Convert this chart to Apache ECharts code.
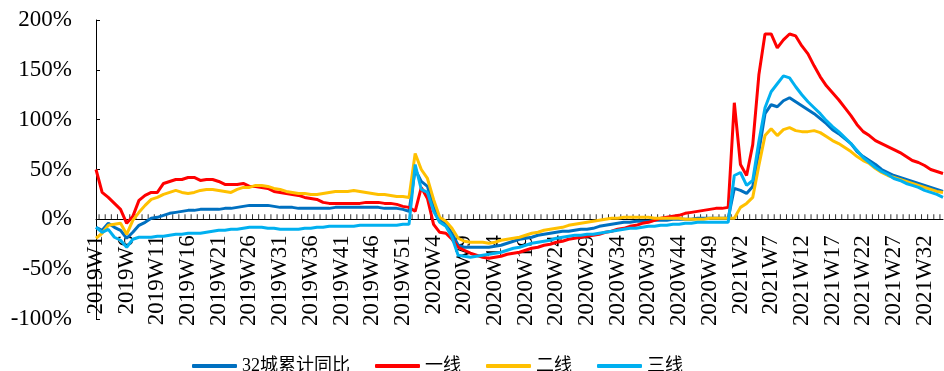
<!DOCTYPE html>
<html>
<head>
<meta charset="utf-8">
<script src="https://cdn.jsdelivr.net/npm/echarts@6/dist/echarts.min.js"></script>
<style>
  html, body { margin: 0; padding: 0; background: #fff; }
  #chart { width: 944px; height: 371px; }
</style>
</head>
<body>
<div id="chart"></div>
<script>
// Week categories: 2019W1 … 2021W35
const years = [2019, 2020, 2021];
const weeksInYear = [52, 52, 35];
const weeks = [];
years.forEach((y, k) => {
  for (let w = 1; w <= weeksInYear[k]; w++) weeks.push(y + 'W' + w);
});

const seriesNames = ['32城累计同比', '一线', '二线', '三线'];

// 32城累计同比 (%)
const city32 = [
  -8, -11, -4, -8, -11, -19, -13, -6, -3, 1, 2, 4, 6, 7, 8, 9, 9, 10, 10, 10, 10, 11, 11, 12, 13, 14, 14,
  14, 14, 13, 12, 12, 12, 11, 11, 11, 11, 11, 11, 12, 12, 12, 12, 12, 12, 12, 12, 11, 11, 11, 10, 8,
  50, 38, 33, 12, -1, -5, -14, -26, -28, -28, -28, -28, -28, -27, -26, -24, -22, -20, -19, -18, -16, -15, -14, -13, -12, -12, -11, -10, -10,
  -9, -7, -6, -5, -4, -3, -3, -2, -2, -2, -1, -1, -1, 0, 0, 0, 0, 1, 1, 1, 1, 1, 1,
  31, 29, 26, 33, 68, 106, 115, 113, 119, 122, 118, 114, 110, 106, 101, 96, 90, 86, 81, 76, 68, 63, 59, 55, 50, 47, 44, 42, 40, 38, 36, 34, 32, 30, 28
];

// 一线 (%)
const tier1 = [
  50, 27, 22, 16, 10, -4, 3, 19, 24, 27, 27, 36, 38, 40, 40, 42, 42, 39, 40, 40, 38, 35, 35, 35, 36, 33, 33,
  32, 31, 28, 27, 26, 25, 24, 22, 21, 20, 17, 16, 16, 16, 16, 16, 16, 17, 17, 17, 16, 16, 15, 13, 12,
  8, 32, 21, -5, -13, -14, -20, -28, -31, -34, -36, -38, -39, -38, -37, -35, -34, -33, -31, -29, -28, -26, -25, -23, -22, -20, -19, -18, -17,
  -16, -15, -13, -12, -10, -9, -7, -6, -4, -3, -1, 1, 2, 3, 4, 6, 7, 8, 9, 10, 11, 11, 12,
  117, 55, 44, 75, 145, 186, 186, 172, 180, 186, 184, 174, 166, 154, 143, 134, 127, 120, 112, 104, 95, 88, 84, 79, 76, 73, 70, 67, 63, 59, 57, 54, 50, 48, 46
];

// 二线 (%)
const tier2 = [
  -19, -14, -6, -5, -4, -15, -1, 7, 14, 20, 22, 25, 27, 29, 27, 26, 27, 29, 30, 30, 29, 28, 27, 30, 32, 32, 34,
  34, 33, 31, 30, 28, 27, 26, 26, 25, 25, 26, 27, 28, 28, 28, 29, 28, 27, 26, 25, 25, 24, 23, 23, 22,
  66, 50, 41, 20, 2, -2, -9, -19, -22, -23, -23, -23, -24, -23, -21, -20, -19, -18, -16, -14, -13, -11, -10, -9, -8, -6, -5, -4, -3,
  -2, -1, 0, 1, 1, 2, 2, 2, 2, 2, 1, 1, 1, 1, 1, 0, 0, 0, 0, 1, 1, 1, 1,
  1, 12, 16, 22, 54, 84, 91, 84, 90, 92, 89, 88, 88, 89, 87, 83, 79, 76, 72, 68, 63, 59, 56, 51, 47, 44, 42, 40, 38, 36, 34, 32, 30, 28, 27
];

// 三线 (%)
const tier3 = [
  -8, -13, -10, -18, -21, -28, -20, -18, -18, -18, -17, -17, -16, -15, -15, -14, -14, -14, -13, -12, -11, -11, -10, -10, -9, -8, -8,
  -8, -9, -9, -10, -10, -10, -10, -9, -9, -8, -8, -7, -7, -7, -7, -7, -6, -6, -6, -6, -6, -6, -6, -5, -5,
  55, 30, 27, 8, -3, -7, -18, -36, -37, -38, -37, -36, -35, -34, -33, -31, -29, -28, -26, -24, -23, -22, -21, -19, -18, -17, -16, -16, -15,
  -15, -14, -13, -12, -11, -10, -9, -9, -8, -7, -7, -6, -6, -5, -5, -4, -4, -3, -3, -3, -3, -3, -3,
  44, 47, 34, 39, 78, 112, 128, 136, 144, 142, 133, 125, 118, 112, 106, 99, 93, 88, 82, 76, 69, 62, 57, 52, 48, 45, 41, 39, 36, 34, 32, 29, 27, 25, 22
];

const colors = ['#0070C0', '#FF0000', '#FFC000', '#00B0F0'];
const yMin = -100, yMax = 200, yStep = 50;
// split line colours per y tick (-100 … 200): only the 0% line is drawn
const clear = 'rgba(0,0,0,0)';
const ySplitColors = [clear, clear, '#000', clear, clear, clear, clear];

// plot geometry
const W = 944, H = 371;
const plotLeft = 96, plotRight = 943, plotTop = 20, plotBottom = 319;
// distance from the plot bottom up to the 0% level; the week labels hang from there
const zeroLift = (0 - yMin) / (yMax - yMin) * (plotBottom - plotTop);

const serif = "'Liberation Serif', 'Times New Roman', serif";
const legendFont = "'Liberation Serif', 'Noto Sans CJK SC', serif";

// small upward ticks on the 0% line, standing between consecutive weeks
const tickPositions = weeks.slice(1).map((w, i) => [i + 0.5, 0]);

const allData = [city32, tier1, tier2, tier3];

const chart = echarts.init(document.getElementById('chart'));

chart.setOption({
  animation: false,
  grid: {
    left: plotLeft, right: W - plotRight, top: plotTop, bottom: H - plotBottom,
    outerBoundsMode: 'none'
  },
  legend: {
    data: seriesNames,
    left: 187,
    top: 352,
    itemWidth: 45,
    itemHeight: 4,
    itemGap: 25,
    icon: 'roundRect',
    textStyle: { fontSize: 18, fontFamily: legendFont, color: '#000' }
  },
  xAxis: [
    {
      // data axis: draws the 0% baseline
      type: 'category',
      data: weeks,
      boundaryGap: false,
      axisLine: { show: true, lineStyle: { color: '#000' } },
      axisTick: { show: false },
      axisLabel: { show: false },
      splitLine: { show: false }
    },
    {
      // label axis: week names hanging below the 0% line
      type: 'category',
      data: weeks,
      boundaryGap: false,
      position: 'bottom',
      offset: -zeroLift,
      axisLine: { show: false, onZero: false },
      axisTick: { show: false },
      axisLabel: {
        interval: 4,
        rotate: 90,
        margin: 16,
        fontSize: 23,
        fontFamily: serif,
        color: '#000'
      },
      splitLine: { show: false }
    },
    {
      // week-index scale for the baseline ticks
      type: 'value',
      position: 'top',
      min: 0,
      max: weeks.length - 1,
      show: false,
      splitLine: { show: false }
    }
  ],
  yAxis: {
    type: 'value',
    min: yMin,
    max: yMax,
    interval: yStep,
    axisLine: { show: true, lineStyle: { color: '#000' } },
    axisTick: { show: true, inside: true, length: 4, lineStyle: { color: '#000' } },
    axisLabel: {
      formatter: '{value}%',
      margin: 24,
      fontSize: 23,
      fontFamily: serif,
      color: '#000'
    },
    splitLine: { show: true, lineStyle: { color: ySplitColors, width: 1, type: 'solid' } }
  },
  series: [
    ...seriesNames.map((name, k) => ({
      name,
      type: 'line',
      xAxisIndex: 0,
      data: allData[k],
      showSymbol: false,
      symbol: 'none',
      color: colors[k],
      lineStyle: { color: colors[k], width: 3 }
    })),
    {
      name: 'ticks',
      type: 'scatter',
      xAxisIndex: 2,
      silent: true,
      symbol: 'rect',
      symbolSize: [1, 5],
      symbolOffset: [0, -2.5],
      itemStyle: { color: '#000' },
      data: tickPositions
    }
  ]
});
</script>
</body>
</html>
